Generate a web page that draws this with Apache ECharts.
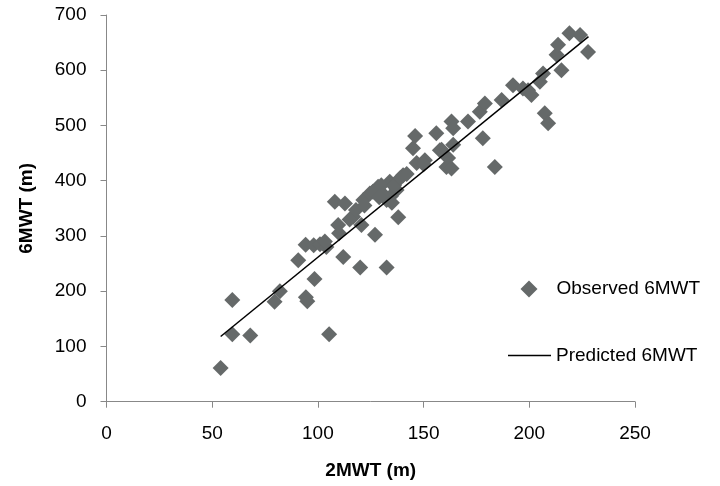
<!DOCTYPE html>
<html>
<head>
<meta charset="utf-8">
<script src="https://cdn.jsdelivr.net/npm/echarts@6/dist/echarts.min.js"></script>
<style>
html,body{margin:0;padding:0;background:#fff;}
#chart{width:720px;height:486px;}
</style>
</head>
<body>
<div id="chart"></div>
<script>
// Observed 6MWT vs 2MWT (m)
var obsX = [54, 59.5, 59.5, 68, 79.5, 82, 90.7, 94.2, 94.3, 95, 98.4, 98, 101, 104, 105.3, 103.3,
  108, 112.8, 109.6, 110, 112, 116.7, 118, 121.5, 120, 120.6, 124.6, 127, 128.5, 132.5, 134.5, 132.5,
  134, 137.2, 138, 140.3, 126, 130, 131, 136, 139, 142, 145, 146.7, 146, 150.6, 150, 156, 157.7,
  158.5, 160.8, 161.6, 163.2, 163.2, 164, 164, 171, 176.6, 178, 179, 183.7, 186.9, 192.3, 197,
  199.4, 201, 205, 206.5, 207.3, 208.9, 212.9, 213.6, 215.2, 219, 224, 227.8, 115, 122, 129, 135];
var obsY = [61, 184, 122, 120, 181, 200, 256, 284, 189, 182, 222, 283, 285, 280, 122, 290,
  362, 359, 320, 305, 262, 335, 347, 365, 243, 320, 377, 302, 389, 365, 372, 243,
  398, 383, 334, 410, 380, 392, 375, 392, 405, 412, 459, 432, 481, 437, 430, 486, 455,
  456, 425, 441, 422, 507, 495, 465, 507, 525, 477, 540, 425, 546, 573, 567,
  564, 555, 579, 594, 522, 504, 628, 646, 600, 667, 664, 633, 330, 355, 370, 360];
// Predicted 6MWT (regression line end points)
var predX = [54, 228];
var predY = [118, 661];
var xTicks = [0, 50, 100, 150, 200, 250];
var yTicks = [0, 100, 200, 300, 400, 500, 600, 700];

var obsData = obsX.map(function (x, i) { return [x, obsY[i]]; });
var predData = predX.map(function (x, i) { return [x, predY[i]]; });

var font = 'Liberation Sans, Arial, sans-serif';
var fs = 19;
var chart = echarts.init(document.getElementById('chart'));
chart.setOption({
  animation: false,
  backgroundColor: '#ffffff',
  textStyle: { fontFamily: font },
  grid: { left: 106.5, right: 85, top: 15, bottom: 84.3, containLabel: false },
  legend: [
    {
      data: [{ name: 'Observed 6MWT', icon: 'diamond' }],
      left: 515.5, top: 274.5, itemWidth: 17, itemHeight: 17, orient: 'vertical',
      textStyle: { fontSize: fs, color: '#000', fontFamily: font, padding: [0, 0, 0, 14] }
    },
    {
      data: [{ name: 'Predicted 6MWT', icon: 'rect' }],
      left: 503, top: 341, itemWidth: 43, itemHeight: 1.5, orient: 'vertical',
      textStyle: { fontSize: fs, color: '#000', fontFamily: font }
    }
  ],
  xAxis: {
    type: 'value', min: xTicks[0], max: xTicks[xTicks.length - 1], interval: 50,
    name: '2MWT (m)', nameLocation: 'middle', nameGap: 60,
    nameTextStyle: { fontSize: fs, fontWeight: 'bold', color: '#000', fontFamily: font },
    axisLine: { show: true, onZero: false, lineStyle: { color: '#888888', width: 1 } },
    axisTick: { show: true, inside: false, length: 6, lineStyle: { color: '#888888' } },
    axisLabel: { fontSize: fs, color: '#000', margin: 23, fontFamily: font },
    splitLine: { show: false }
  },
  yAxis: {
    type: 'value', min: yTicks[0], max: yTicks[yTicks.length - 1], interval: 100,
    name: '6MWT (m)', nameLocation: 'middle', nameGap: 70,
    nameTextStyle: { fontSize: fs, fontWeight: 'bold', color: '#000', fontFamily: font },
    axisLine: { show: true, onZero: false, lineStyle: { color: '#888888', width: 1 } },
    axisTick: { show: true, inside: false, length: 6, lineStyle: { color: '#888888' } },
    axisLabel: { fontSize: fs, color: '#000', margin: 20, fontFamily: font },
    splitLine: { show: false }
  },
  series: [
    {
      name: 'Observed 6MWT', type: 'scatter', data: obsData,
      symbol: 'diamond', symbolSize: 16,
      itemStyle: { color: '#656969', opacity: 1 }
    },
    {
      name: 'Predicted 6MWT', type: 'line', data: predData,
      symbol: 'none', showSymbol: false,
      lineStyle: { color: '#000000', width: 1.5 },
      itemStyle: { color: '#000000' }
    }
  ]
});
</script>
</body>
</html>
